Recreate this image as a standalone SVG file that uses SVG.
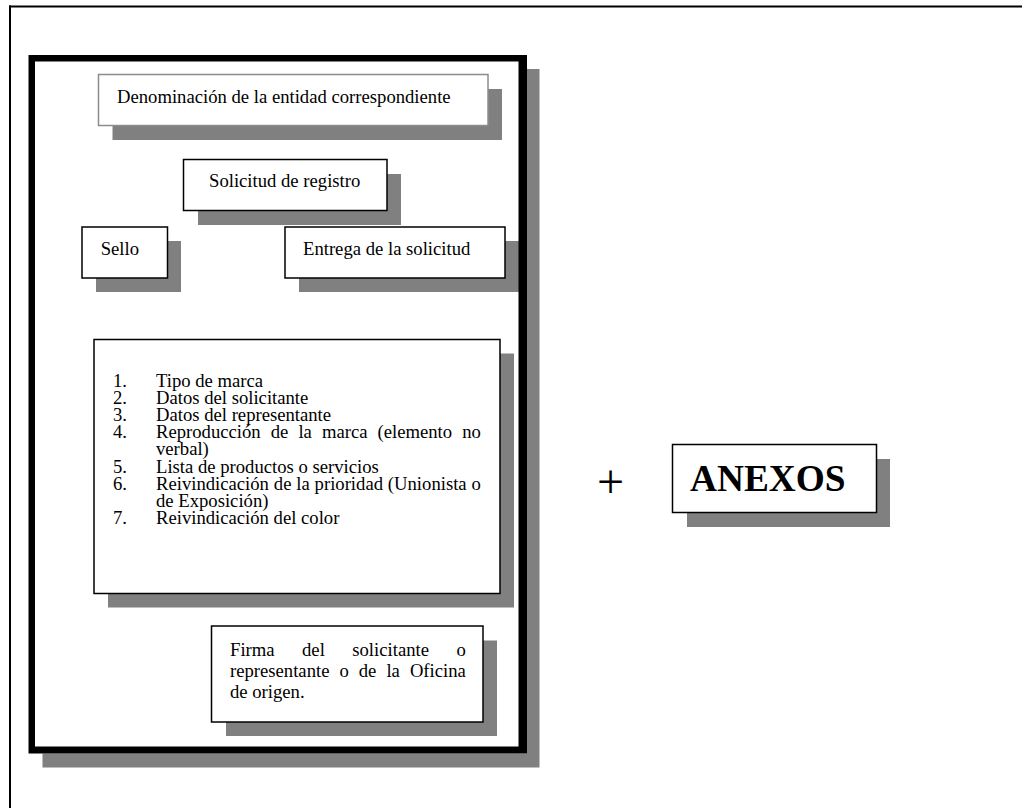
<svg xmlns="http://www.w3.org/2000/svg" width="1022" height="808" viewBox="0 0 1022 808">
  <style>
    .shadow { fill: #808080; }
    .box { fill: #ffffff; stroke: #000000; stroke-width: 1.5; }
    .box-light { fill: #ffffff; stroke: #8c8c8c; stroke-width: 1.5; }
    .txt { font-family: "Liberation Serif", "Times New Roman", serif; font-size: 18.67px; fill: #000000; }
    .big { font-family: "Liberation Serif", "Times New Roman", serif; font-size: 37.33px; font-weight: bold; fill: #000000; }
    .frame { stroke: #000000; stroke-width: 2; fill: none; }
  </style>

  <rect width="1022" height="808" fill="#ffffff"/>

  <!-- page frame -->
  <g id="frame">
    <line class="frame" x1="9" y1="6.5" x2="1022" y2="6.5"/>
    <line class="frame" x1="10" y1="5.5" x2="10" y2="808"/>
  </g>

  <!-- application form sheet -->
  <g id="sheet">
    <rect class="shadow" x="42.5" y="69" width="497" height="698.5"/>
    <rect x="28.5" y="55" width="498.5" height="698.5" fill="#ffffff"/>
  </g>

  <g id="denominacion">
    <rect class="shadow" x="112.5" y="89" width="389.5" height="51"/>
    <rect class="box-light" x="98.5" y="74.5" width="389.5" height="51"/>
    <text class="txt" x="117" y="103">Denominación de la entidad correspondiente</text>
  </g>

  <g id="solicitud">
    <rect class="shadow" x="198" y="174" width="203" height="51"/>
    <rect class="box" x="183.5" y="159.5" width="203.5" height="51"/>
    <text class="txt" x="209" y="187">Solicitud de registro</text>
  </g>

  <g id="sello">
    <rect class="shadow" x="96" y="241" width="85" height="51"/>
    <rect class="box" x="82" y="227" width="85.5" height="51"/>
    <text class="txt" x="100.7" y="255">Sello</text>
  </g>

  <g id="entrega">
    <rect class="shadow" x="299" y="241" width="220" height="51"/>
    <rect class="box" x="285" y="227" width="220" height="51"/>
    <text class="txt" x="303" y="255">Entrega de la solicitud</text>
  </g>

  <g id="contenido">
    <rect class="shadow" x="108" y="353.5" width="406" height="254"/>
    <rect class="box" x="94" y="339.5" width="406" height="254"/>
    <g class="txt">
      <text x="113" y="387">1.</text>
      <text x="156" y="387">Tipo de marca</text>
      <text x="113" y="404.1">2.</text>
      <text x="156" y="404.1">Datos del solicitante</text>
      <text x="113" y="421.2">3.</text>
      <text x="156" y="421.2">Datos del representante</text>
      <text x="113" y="438.3">4.</text>
      <text x="156" y="438.3" word-spacing="5.4">Reproducción de la marca (elemento no</text>
      <text x="156" y="455.4">verbal)</text>
      <text x="113" y="472.5">5.</text>
      <text x="156" y="472.5">Lista de productos o servicios</text>
      <text x="113" y="489.6">6.</text>
      <text x="156" y="489.6" word-spacing="0.2">Reivindicación de la prioridad (Unionista o</text>
      <text x="156" y="506.7">de Exposición)</text>
      <text x="113" y="523.8">7.</text>
      <text x="156" y="523.8">Reivindicación del color</text>
    </g>
  </g>

  <g id="firma">
    <rect class="shadow" x="226" y="640.5" width="271" height="95.5"/>
    <rect class="box" x="211.5" y="626" width="271.5" height="96"/>
    <g class="txt">
      <text x="230" y="656" word-spacing="22.8">Firma del solicitante o</text>
      <text x="230" y="677" word-spacing="5.35">representante o de la Oficina</text>
      <text x="230" y="698">de origen.</text>
    </g>
  </g>

  <!-- thick sheet border drawn over the inner shadows -->
  <path d="M28.5 55 H527 V753.5 H28.5 Z M35 61.5 V746.5 H518.5 V61.5 Z" fill="#000000" fill-rule="evenodd"/>

  <g id="connectors">
    <text x="610.5" y="498" text-anchor="middle" font-family="Liberation Serif, 'Times New Roman', serif" font-size="48" fill="#000000">+</text>
  </g>

  <g id="anexos">
    <rect class="shadow" x="687" y="459" width="203" height="68"/>
    <rect class="box" x="672.5" y="444.5" width="204" height="68"/>
    <text class="big" x="690" y="491">ANEXOS</text>
  </g>
</svg>
